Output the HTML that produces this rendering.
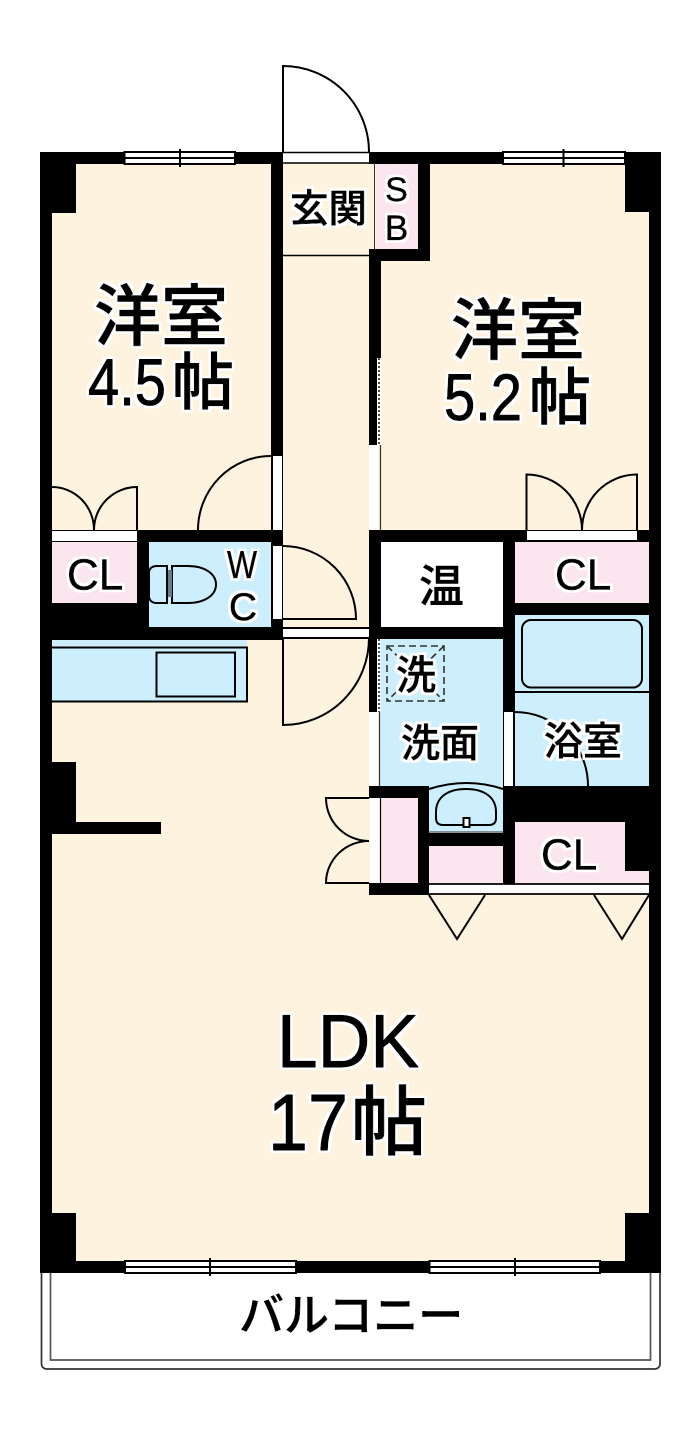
<!DOCTYPE html>
<html><head><meta charset="utf-8"><style>
html,body{margin:0;padding:0;background:#fff}
svg{display:block}
text{font-family:"Liberation Sans","Noto Sans CJK JP",sans-serif;fill:#000;stroke:#000;stroke-width:1px;stroke-linejoin:round}
.j{font-family:"Noto Sans CJK JP","Liberation Sans",sans-serif;font-weight:500;stroke-width:.7px}
.s{stroke-width:.6px}
.l{fill:none;stroke:#000;stroke-width:2}
</style></head><body>
<svg width="700" height="1445" viewBox="0 0 700 1445" xmlns="http://www.w3.org/2000/svg">
<defs>
<filter id="halo" filterUnits="userSpaceOnUse" x="0" y="0" width="700" height="1445">
<feMorphology in="SourceAlpha" operator="dilate" radius="2.500" result="d"/>
<feFlood flood-color="#fff"/>
<feComposite in2="d" operator="in" result="w"/>
<feMerge><feMergeNode in="w"/><feMergeNode in="SourceGraphic"/></feMerge>
</filter>
</defs>
<rect width="700" height="1445" fill="#fff"/>
<!-- balcony -->
<path d="M41.500 1273V1364a5 5 0 0 0 5 5H655a5 5 0 0 0 5-5V1273" fill="none" stroke="#333" stroke-width="1.700"/>
<path d="M50.500 1273V1360H650.500V1273" fill="none" stroke="#555" stroke-width="1.700"/>
<!-- floor -->
<rect x="40" y="152" width="621" height="1121" fill="#fef3df"/>
<!-- rooms -->
<rect x="376" y="164" width="42" height="85" fill="#fbe5ef"/>
<rect x="52" y="542" width="85" height="61" fill="#fbe5ef"/>
<rect x="149" y="542" width="122" height="85" fill="#cdeefc"/>
<rect x="381" y="542" width="122" height="85" fill="#fff"/>
<rect x="515" y="542" width="134" height="61" fill="#fbe5ef"/>
<rect x="515" y="615" width="134" height="171" fill="#cdeefc"/>
<rect x="380" y="639" width="123" height="193" fill="#cdeefc"/>
<rect x="381" y="798" width="37" height="85" fill="#fbe5ef"/>
<rect x="429" y="846" width="74" height="37" fill="#fbe5ef"/>
<rect x="515" y="822" width="134" height="61" fill="#fbe5ef"/>
<rect x="52" y="640" width="195" height="62" fill="#cdeefc"/>
<!-- walls -->
<g fill="#000">
<rect x="40" y="152" width="243" height="12"/>
<rect x="369" y="152" width="292" height="12"/>
<rect x="40" y="152" width="36" height="61"/>
<rect x="625" y="152" width="36" height="60"/>
<rect x="40" y="152" width="12" height="1121"/>
<rect x="649" y="152" width="12" height="1121"/>
<rect x="40" y="1213" width="36" height="60"/>
<rect x="625" y="1213" width="36" height="60"/>
<rect x="40" y="1261" width="621" height="12"/>
<rect x="271" y="152" width="12" height="488"/>
<rect x="418" y="152" width="12" height="109"/>
<rect x="369" y="249" width="61" height="12"/>
<rect x="369" y="249" width="12" height="109"/>
<rect x="369" y="358" width="8" height="87"/>
<rect x="40" y="530" width="243" height="12"/>
<rect x="137" y="530" width="12" height="110"/>
<rect x="40" y="603" width="109" height="37"/>
<rect x="40" y="627" width="243" height="13"/>
<rect x="369" y="530" width="292" height="12"/>
<rect x="369" y="530" width="12" height="109"/>
<rect x="369" y="627" width="146" height="12"/>
<rect x="369" y="639" width="8" height="73"/>
<rect x="503" y="530" width="12" height="354"/>
<rect x="503" y="603" width="158" height="12"/>
<rect x="503" y="786" width="158" height="36"/>
<rect x="625" y="786" width="36" height="85"/>
<rect x="369" y="786" width="60" height="12"/>
<rect x="369" y="883" width="60" height="12"/>
<rect x="369" y="786" width="12" height="12"/>
<rect x="418" y="786" width="11" height="109"/>
<rect x="429" y="833" width="74" height="13"/>
<rect x="40" y="762" width="36" height="72"/>
<rect x="40" y="822" width="121" height="12"/>
</g>
<!-- openings -->
<g fill="#fff">
<rect x="283" y="152.500" width="86" height="10"/>
<rect x="273" y="456" width="9" height="74"/>
<rect x="52" y="531" width="85" height="10"/>
<rect x="273" y="546" width="9" height="73"/>
<rect x="283" y="628" width="86" height="10"/>
<rect x="527" y="531" width="110" height="9"/>
<rect x="369" y="445" width="9" height="85"/>
<rect x="369" y="712" width="9" height="74"/>
<rect x="504" y="712" width="9" height="74"/>
<rect x="370" y="798" width="10" height="85"/>
<rect x="429" y="884" width="220" height="10"/>
<rect x="377" y="358" width="3.500" height="87"/>
<rect x="377" y="639" width="3.500" height="73"/>
</g>
<g class="l">
<path d="M283 152.500H369M283 163H369" stroke-width="1.500"/>
<path d="M283 628H369M283 638H369"/>
<path d="M429 884H649M429 894H649" stroke-width="1.800"/>
<path d="M374.500 163V249" stroke="#333" stroke-width="1"/>
<path d="M283 255.500H369" stroke-width="1.500"/>
<path d="M380.500 445V530M379.500 712V786" stroke="#333" stroke-width="1.200"/>
<path d="M379 358V445M379 639V712" stroke-dasharray="2 2" stroke-width="1.400"/>
<path d="M380.500 798V883" stroke-width="1.200"/>
<!-- entrance door -->
<path d="M283 152V66A86 86 0 0 1 369 152"/>
<!-- room doors -->
<path d="M271 456A73 74 0 0 0 198 530"/>
<path d="M52 487A42 43 0 0 1 94 530A43 43 0 0 1 137 487V530"/>
<path d="M283 546A73 73 0 0 1 356 619H283"/>
<path d="M283 638V725A86 87 0 0 0 369 638"/>
<path d="M526.500 530V474.500A55.500 55.500 0 0 1 582 530A55 55.500 0 0 1 637 474.500V530"/>
<path d="M515 712A73 74 0 0 1 588 786"/>
<path d="M369 798H326A43 43 0 0 0 369 841A43 42 0 0 0 326 883H369"/>
<path d="M429 895L457 939L485 895M594 895L622 939L649 895"/>
<!-- kitchen -->
<path d="M52 647.500H247V701.500H52"/>
<rect x="156.500" y="652.500" width="78.500" height="44"/>
<!-- bath -->
<rect x="522" y="620" width="120" height="67.500" rx="9"/>
<path d="M515 692H649"/>
<!-- basin -->
<path d="M429 789Q467 777 503 789"/>
<path d="M436 812C436 797 448 789 466 789C484 789 496 797 496 812V818Q496 825 489 825H443Q436 825 436 818Z"/>
<rect x="463.500" y="818" width="6" height="9" fill="#fff"/>
<path d="M429 832H503" stroke="#555" stroke-width="1.200"/>
<!-- toilet -->
<path d="M167 566H157Q150 566 149 572V597Q150 603 157 603H167Z"/>
<path d="M172 566H188C205 566 216 574 216 584.500C216 595 205 603 188 603H172Z"/>
<path d="M167 566V603M172 566V603"/>
<rect x="168" y="570" width="4" height="27" fill="#5b7f8e" stroke="none"/>
</g>
<!-- washer pan -->
<g fill="none" stroke="#333" stroke-width="1.600" stroke-dasharray="7 4">
<rect x="387" y="646" width="57" height="55"/>
<path d="M387 646L444 701M444 646L387 701"/>
</g>
<!-- windows -->
<g fill="#fff" stroke="#000" stroke-width="2">
<rect x="124.500" y="152" width="110.500" height="12"/>
<rect x="503" y="152" width="122" height="12"/>
<rect x="125" y="1261" width="171" height="12"/>
<rect x="429.500" y="1261" width="170.500" height="12"/>
<path d="M124.500 158H235M180 149V167M503 158H625M563.500 149V167M125 1267H296M210 1258V1276M429.500 1267H600M515 1258V1276" fill="none"/>
</g>
<!-- labels -->
<g filter="url(#halo)">
<text class="j" x="94" y="340" font-size="67">洋室</text>
<text x="88" y="405" font-size="66" textLength="78" lengthAdjust="spacingAndGlyphs">4.5</text>
<text class="j" x="172" y="404" font-size="62">帖</text>
<text class="j" x="451" y="354" font-size="67">洋室</text>
<text x="444" y="420" font-size="66" textLength="78" lengthAdjust="spacingAndGlyphs">5.2</text>
<text class="j" x="529" y="419" font-size="62">帖</text>
<text x="277" y="1067" font-size="75" textLength="142" lengthAdjust="spacingAndGlyphs">LDK</text>
<text x="268" y="1150" font-size="80" textLength="80" lengthAdjust="spacingAndGlyphs">17</text>
<text class="j" x="351" y="1149" font-size="76">帖</text>
<text class="j s" x="290" y="222" font-size="38.500">玄関</text>
<text class="s" x="396.500" y="201" font-size="34" text-anchor="middle">S</text>
<text class="s" x="396.500" y="240" font-size="35" text-anchor="middle">B</text>
<text class="s" x="67" y="589.500" font-size="44">CL</text>
<text class="s" x="555" y="589.500" font-size="44">CL</text>
<text class="s" x="541" y="869.500" font-size="44">CL</text>
<text class="s" x="227" y="578" font-size="39" textLength="30" lengthAdjust="spacingAndGlyphs">W</text>
<text class="s" x="243" y="620" font-size="39" text-anchor="middle">C</text>
<text class="j s" x="419" y="602" font-size="45">温</text>
<text class="j s" x="396" y="689" font-size="40">洗</text>
<text class="j s" x="401" y="757" font-size="39">洗面</text>
<text class="j s" x="544" y="755" font-size="39">浴室</text>
<text class="j s" x="239" y="1331" font-size="45">バルコニー</text>
</g>
</svg>
</body></html>
